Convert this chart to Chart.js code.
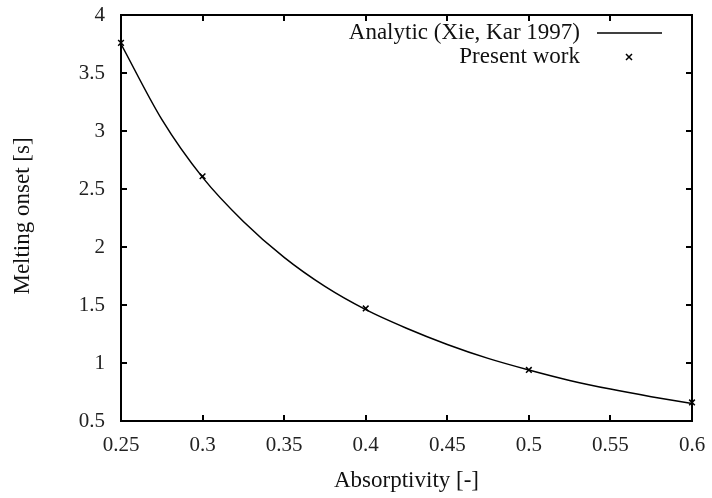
<!DOCTYPE html>
<html><head><meta charset="utf-8">
<script src="https://cdn.jsdelivr.net/npm/chart.js@4/dist/chart.umd.min.js"></script>
<style>html,body{margin:0;padding:0;background:#fff}#wrap{width:712px;height:498px}</style>
</head><body><div id="wrap"><canvas id="c" width="712" height="498"></canvas></div>
<script>
const analyticX = [0.25,0.275,0.3,0.325,0.35,0.375,0.4,0.425,0.45,0.475,0.5,0.525,0.55,0.575,0.6];
const analyticY = [3.75,3.10,2.60,2.22,1.91,1.66,1.46,1.30,1.16,1.04,0.94,0.85,0.775,0.71,0.65];
const presentX = [0.25,0.3,0.4,0.5,0.6];
const presentY = [3.76,2.61,1.47,0.94,0.66];
const xTicks = [0.25,0.3,0.35,0.4,0.45,0.5,0.55,0.6];
const yTicks = [0.5,1,1.5,2,2.5,3,3.5,4];
const FONT = "'Liberation Serif', serif";

const frame = {
  id:'frame',
  afterDatasetsDraw(chart){
    const {ctx, chartArea:a, scales:{x,y}} = chart;
    ctx.save();
    ctx.strokeStyle='#000'; ctx.lineWidth=2;
    const L=6;
    ctx.beginPath();
    xTicks.forEach(v=>{const p=Math.round(x.getPixelForValue(v));
      ctx.moveTo(p,a.bottom);ctx.lineTo(p,a.bottom-L);ctx.moveTo(p,a.top);ctx.lineTo(p,a.top+L);});
    yTicks.forEach(v=>{const p=Math.round(y.getPixelForValue(v));
      ctx.moveTo(a.left,p);ctx.lineTo(a.left+L,p);ctx.moveTo(a.right,p);ctx.lineTo(a.right-L,p);});
    ctx.stroke();
    ctx.strokeRect(a.left,a.top,a.right-a.left,a.bottom-a.top);
    // legend
    ctx.fillStyle='#111';
    ctx.font='23px '+FONT;
    ctx.textAlign='right'; ctx.textBaseline='middle';
    ctx.fillText('Analytic (Xie, Kar 1997)',580,33);
    ctx.fillText('Present work',580,57);
    ctx.strokeStyle='#000';
    ctx.lineWidth=1.5;
    ctx.beginPath();ctx.moveTo(597,33);ctx.lineTo(662,33);ctx.stroke();
    ctx.beginPath();const cx=629,cy=57,r=3;
    ctx.moveTo(cx-r,cy-r);ctx.lineTo(cx+r,cy+r);ctx.moveTo(cx+r,cy-r);ctx.lineTo(cx-r,cy+r);ctx.stroke();
    // axis titles
    ctx.font='23px '+FONT;
    ctx.textAlign='center';
    ctx.fillText('Absorptivity [-]',(a.left+a.right)/2,481);
    ctx.translate(23,216);
    ctx.rotate(-Math.PI/2);
    ctx.fillText('Melting onset [s]',0,0);
    ctx.restore();
  }
};

new Chart(document.getElementById('c'),{
  type:'scatter',
  data:{datasets:[
    {label:'Analytic (Xie, Kar 1997)',data:analyticX.map((v,i)=>({x:v,y:analyticY[i]})),
     showLine:true,pointRadius:0,borderColor:'#000',borderWidth:1.5,cubicInterpolationMode:'monotone'},
    {label:'Present work',data:presentX.map((v,i)=>({x:v,y:presentY[i]})),
     pointStyle:'crossRot',pointRadius:4,borderColor:'#000',backgroundColor:'#000',borderWidth:1.5,clip:false}
  ]},
  options:{
    responsive:false,animation:false,
    layout:{padding:{left:0,right:20,top:15,bottom:0}},
    plugins:{legend:{display:false},tooltip:{enabled:false}},
    scales:{
      x:{type:'linear',min:0.25,max:0.6,
        afterBuildTicks:s=>{s.ticks=xTicks.map(v=>({value:v}));},
        afterFit:s=>{s.height=77;s.paddingLeft=0;s.paddingRight=0;},
        grid:{display:false,drawTicks:false},border:{display:false},
        ticks:{padding:12,color:'#222',font:{family:FONT,size:21},maxRotation:0,callback:v=>String(v)}},
      y:{type:'linear',min:0.5,max:4,
        afterBuildTicks:s=>{s.ticks=yTicks.map(v=>({value:v}));},
        afterFit:s=>{s.width=121;s.paddingTop=0;s.paddingBottom=0;},
        grid:{display:false,drawTicks:false},border:{display:false},
        ticks:{padding:16,color:'#222',font:{family:FONT,size:21},callback:v=>String(v)}}
    }
  },
  plugins:[frame]
});
</script></body></html>
